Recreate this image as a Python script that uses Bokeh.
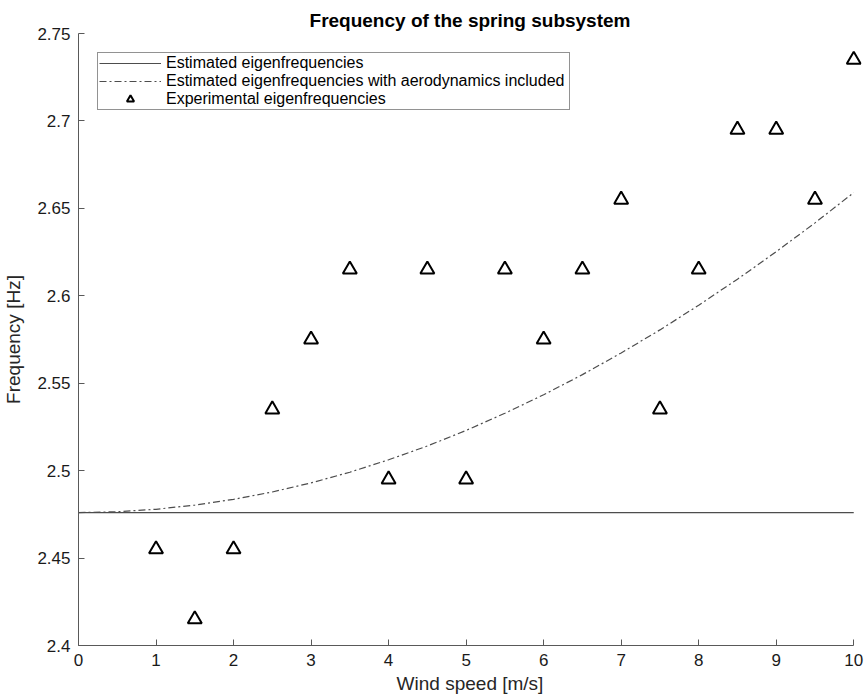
from bokeh.plotting import figure
from bokeh.models import FixedTicker, Legend, LegendItem
from bokeh.embed import file_html
from bokeh.resources import INLINE

# ---- data ----
wind_exp = [1.0, 1.5, 2.0, 2.5, 3.0, 3.5, 4.0, 4.5, 5.0, 5.5, 6.0, 6.5, 7.0, 7.5, 8.0, 8.5, 9.0, 9.5, 10.0]
freq_exp = [2.455, 2.415, 2.455, 2.535, 2.575, 2.615, 2.495, 2.615, 2.495, 2.615,
            2.575, 2.615, 2.655, 2.535, 2.615, 2.695, 2.695, 2.655, 2.735]

wind_est = [0.0, 10.0]
freq_est = [2.476, 2.476]

wind_aero = [0.0, 0.5, 1.0, 1.5, 2.0, 2.5, 3.0, 3.5, 4.0, 4.5, 5.0,
             5.5, 6.0, 6.5, 7.0, 7.5, 8.0, 8.5, 9.0, 9.5, 10.0]
freq_aero = [2.4760, 2.4765, 2.4779, 2.4803, 2.4836, 2.4878, 2.4930, 2.4991, 2.5062, 2.5141, 2.5230,
             2.5328, 2.5434, 2.5549, 2.5673, 2.5805, 2.5946, 2.6095, 2.6252, 2.6417, 2.6590]

x_ticks = [0, 1, 2, 3, 4, 5, 6, 7, 8, 9, 10]
y_ticks = [2.4, 2.45, 2.5, 2.55, 2.6, 2.65, 2.7, 2.75]
y_tick_labels = ["2.4", "2.45", "2.5", "2.55", "2.6", "2.65", "2.7", "2.75"]

FONT = "Liberation Sans"
AX_COL = "#262626"

# x range extended a little past 10 so the last marker is not clipped;
# the axis itself is bounded to 0..10
p = figure(width=867, height=698, x_range=(0, 10.1), y_range=(2.4, 2.75),
           output_backend="svg", toolbar_location=None,
           min_border_left=78, min_border_right=6, min_border_bottom=53, min_border_top=33)

p.title.text = "Frequency of the spring subsystem"
p.title.align = "center"
p.title.offset = -4
p.title.text_font = FONT
p.title.text_font_size = "19px"
p.title.text_font_style = "bold"
p.title.text_color = "#000000"
p.title.standoff = 6

p.outline_line_color = None
p.xgrid.visible = False
p.ygrid.visible = False
p.background_fill_color = "white"
p.border_fill_color = "white"

for ax in (p.xaxis[0], p.yaxis[0]):
    ax.axis_line_color = "#595959"
    ax.axis_line_width = 1
    ax.major_tick_line_color = "#595959"
    ax.major_tick_in = 6
    ax.major_tick_out = 0
    ax.minor_tick_line_color = None
    ax.major_label_text_font = FONT
    ax.major_label_text_font_size = "17px"
    ax.major_label_text_color = "#1a1a1a"
    ax.axis_label_text_font = FONT
    ax.axis_label_text_font_size = "19px"
    ax.axis_label_text_font_style = "normal"
    ax.axis_label_text_color = AX_COL

p.xaxis.bounds = (0, 10)
p.xaxis.ticker = FixedTicker(ticks=x_ticks)
p.yaxis.ticker = FixedTicker(ticks=y_ticks)
p.yaxis.major_label_overrides = {t: l for t, l in zip(y_ticks, y_tick_labels)}
p.xaxis.axis_label = "Wind speed [m/s]"
p.yaxis.axis_label = "Frequency [Hz]"
p.xaxis.major_label_standoff = 8
p.yaxis.major_label_standoff = 8
p.xaxis.axis_label_standoff = 4
p.yaxis.axis_label_standoff = 10

r_est = p.line(wind_est, freq_est, line_color="#4d4d4d", line_width=1.2)
r_aero = p.line(wind_aero, freq_aero, line_color="#4d4d4d", line_width=1.2, line_dash="7 3 2 3")
r_exp = p.scatter(wind_exp, freq_exp, marker="triangle", size=14, fill_color=None,
                  line_color="black", line_width=2)

legend = Legend(items=[
    LegendItem(label="Estimated eigenfrequencies", renderers=[r_est]),
    LegendItem(label="Estimated eigenfrequencies with aerodynamics included", renderers=[r_aero]),
    LegendItem(label="Experimental eigenfrequencies", renderers=[r_exp]),
], location="top_left")
legend.margin = 19
legend.padding = 1
legend.spacing = 0
legend.label_height = 18
legend.glyph_height = 18
legend.glyph_width = 62
legend.label_standoff = 5
legend.label_width = 402
legend.label_text_font = FONT
legend.label_text_font_size = "16px"
legend.label_text_color = "#000000"
legend.label_text_baseline = "middle"
legend.border_line_color = AX_COL
legend.border_line_width = 1
legend.background_fill_color = "white"
legend.background_fill_alpha = 1.0
p.add_layout(legend)

open("out.html", "w").write(file_html(p, INLINE))
